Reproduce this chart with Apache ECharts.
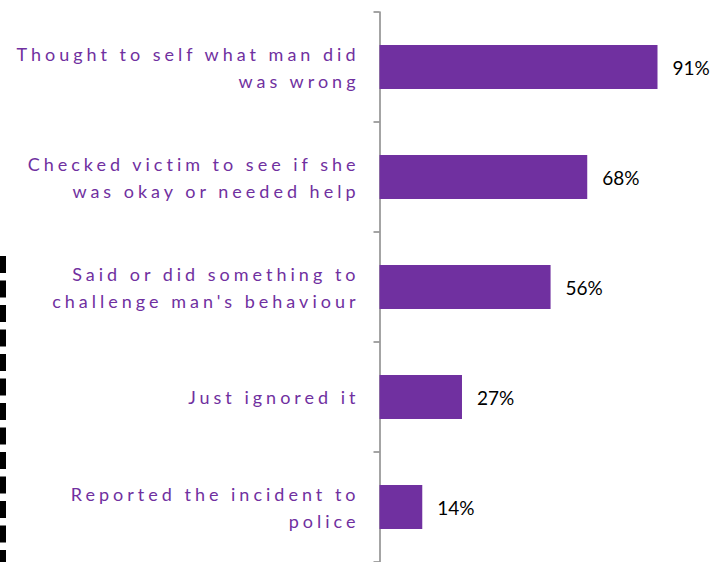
<!DOCTYPE html>
<html>
<head>
<meta charset="utf-8">
<script src="https://cdn.jsdelivr.net/npm/echarts@6/dist/echarts.min.js"></script>
<style>
  html, body { margin: 0; padding: 0; background: #fff; }
  #chart { width: 716px; height: 562px; }
  /* spaced-out lettering for the category names */
  #chart svg text[fill="#7030a0"], #chart svg text[fill="#7030A0"] { letter-spacing: 4px; }
</style>
</head>
<body>
<div id="chart"></div>
<script>
const categories = [
  'Thought to self what man did\nwas wrong',
  'Checked victim to see if she\nwas okay or needed help',
  "Said or did something to\nchallenge man's behaviour",
  'Just ignored it',
  'Reported the incident to\npolice'
];
const values = [91, 68, 56, 27, 14];

const PURPLE = '#7030a0';

const chart = echarts.init(document.getElementById('chart'), null, { renderer: 'svg' });

chart.setOption({
  backgroundColor: '#ffffff',
  animation: false,
  grid: { left: 379.5, right: 31, top: 12, bottom: 0, containLabel: false },
  xAxis: { type: 'value', min: 0, max: 100, show: false },
  yAxis: {
    type: 'category',
    inverse: true,
    data: categories,
    axisLine: { show: true, lineStyle: { color: '#868686', width: 1.5 } },
    axisTick: { show: true, length: 6, lineStyle: { color: '#868686', width: 1.5 } },
    axisLabel: {
      color: PURPLE,
      fontFamily: 'Lato',
      fontSize: 18,
      lineHeight: 27,
      margin: 20,
      align: 'right'
    },
    splitLine: { show: false }
  },
  series: [{
    type: 'bar',
    data: values,
    barWidth: 44,
    itemStyle: { color: PURPLE },
    label: {
      show: true,
      position: 'right',
      distance: 15,
      color: '#000',
      fontFamily: 'Lato',
      fontSize: 19,
      formatter: p => p.value + '%'
    }
  }],
  graphic: [{
    type: 'line',
    shape: { x1: 3, y1: 256, x2: 3, y2: 562 },
    style: { stroke: '#000', lineWidth: 6, lineDash: [17, 7.5], lineCap: 'butt' }
  }]
});
</script>
</body>
</html>
